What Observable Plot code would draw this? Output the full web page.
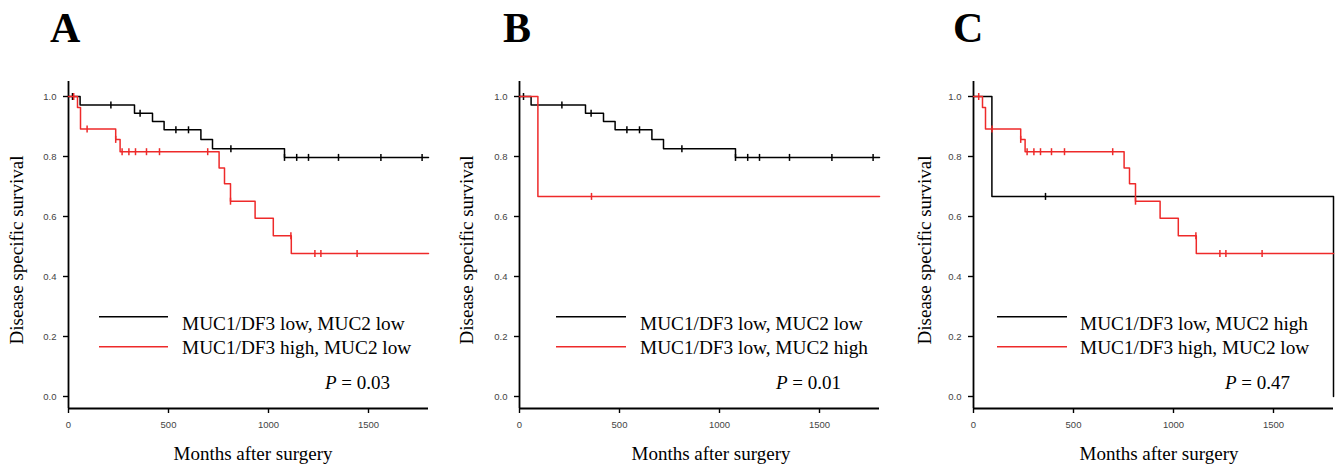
<!DOCTYPE html>
<html>
<head>
<meta charset="utf-8">
<script src="https://cdn.jsdelivr.net/npm/d3@7"></script>
<script src="https://cdn.jsdelivr.net/npm/@observablehq/plot@0.6"></script>
<style>
  html, body { margin: 0; padding: 0; background: #fff; }
  #root { position: relative; width: 1338px; height: 466px; overflow: hidden; background: #fff; }
  .panel { position: absolute; top: 0; }
  #overlay { position: absolute; left: 0; top: 0; pointer-events: none; }
</style>
</head>
<body>
<div id="root"></div>
<script>
// ---------- data ----------
const xTicks = [0, 500, 1000, 1500];
const yTicks = [0, 0.2, 0.4, 0.6, 0.8, 1.0];
const xMax = 1800;

// MUC1/DF3 low, MUC2 low
const lowLowEventTimes = [58, 330, 420, 478, 662, 720, 1080];
const lowLowEventSurv  = [0.972, 0.944, 0.917, 0.889, 0.857, 0.826, 0.797];
const lowLowCensorTimes = [20, 212, 358, 537, 600, 812, 1080, 1141, 1200, 1350, 1562, 1768];

// MUC1/DF3 high, MUC2 low
const highLowEventTimes = [45, 60, 236, 258, 753, 780, 810, 933, 1024, 1114];
const highLowEventSurv  = [0.963, 0.892, 0.857, 0.816, 0.762, 0.709, 0.651, 0.594, 0.536, 0.477];
const highLowCensorTimes = [26, 93, 236, 268, 302, 335, 390, 455, 696, 810, 1112, 1232, 1262, 1443];

// MUC1/DF3 low, MUC2 high
const lowHighEventTimes = [92];
const lowHighEventSurv  = [0.667];
const lowHighCensorTimes = [360];
// panel C: last remaining case of this group dies at end of follow-up
const lowHighFinalTimesC = [1800];
const lowHighFinalSurvC  = [0];

const panelLetters = ["A", "B", "C"];
const legendA = ["MUC1/DF3 low, MUC2 low", "MUC1/DF3 high, MUC2 low"];
const legendB = ["MUC1/DF3 low, MUC2 low", "MUC1/DF3 low, MUC2 high"];
const legendC = ["MUC1/DF3 low, MUC2 high", "MUC1/DF3 high, MUC2 low"];
const pValues = ["0.03", "0.01", "0.47"];
const yLabel = "Disease specific survival";
const xLabel = "Months after surgery";

// ---------- helpers ----------
const BLACK = "#000";
const RED = "#ee2a2a";

function stepPoints(times, surv, extraT = [], extraS = []) {
  const pts = [{t: 0, s: 1}];
  times.forEach((t, i) => pts.push({t, s: surv[i]}));
  extraT.forEach((t, i) => pts.push({t, s: extraS[i]}));
  pts.push({t: xMax, s: pts[pts.length - 1].s});
  return pts;
}
function censorPoints(times, evT, evS) {
  return times.map(t => {
    let s = 1;
    evT.forEach((et, i) => { if (et <= t) s = evS[i]; });
    return {t, s};
  });
}
const vtick = {
  draw(ctx, size) {
    const h = Math.sqrt(size / Math.PI);
    ctx.moveTo(0, -h); ctx.lineTo(0, h);
  }
};

const series = {
  lowLow: {
    line: stepPoints(lowLowEventTimes, lowLowEventSurv),
    cens: censorPoints(lowLowCensorTimes, lowLowEventTimes, lowLowEventSurv)
  },
  highLow: {
    line: stepPoints(highLowEventTimes, highLowEventSurv),
    cens: censorPoints(highLowCensorTimes, highLowEventTimes, highLowEventSurv)
  },
  lowHigh: {
    line: stepPoints(lowHighEventTimes, lowHighEventSurv),
    cens: censorPoints(lowHighCensorTimes, lowHighEventTimes, lowHighEventSurv)
  },
  lowHighC: {
    line: stepPoints(lowHighEventTimes, lowHighEventSurv, lowHighFinalTimesC, lowHighFinalSurvC),
    cens: censorPoints(lowHighCensorTimes, lowHighEventTimes, lowHighEventSurv)
  }
};

// layout per panel (page coordinates)
const panels = [
  {left: 0,   width: 451, ml: 68, black: "lowLow", red: "highLow", legend: legendA,
   letterX: 50, yLabX: 22.5, xLabX: 253, legX1: 99, legX2: 168, legTX: 182, pX: 325},
  {left: 451, width: 453, ml: 68, black: "lowLow", red: "lowHigh", legend: legendB,
   letterX: 503, yLabX: 473, xLabX: 711, legX1: 556, legX2: 626, legTX: 640, pX: 776},
  {left: 904, width: 434, ml: 69, black: "lowHighC", red: "highLow", legend: legendC,
   letterX: 953, yLabX: 931, xLabX: 1159, legX1: 997, legX2: 1067, legTX: 1080, pX: 1225}
];

const root = document.getElementById("root");

panels.forEach((p, k) => {
  const blk = series[p.black], red = series[p.red];
  const chart = Plot.plot({
    width: p.width,
    height: 466,
    marginLeft: p.ml,
    marginRight: p.width - p.ml - 360,
    marginTop: 81,
    marginBottom: 58,
    x: {domain: [0, xMax]},
    y: {domain: [-0.04, 1.05]},
    style: {background: "transparent", overflow: "visible",
            fontFamily: "'Liberation Sans', Arial, sans-serif", fontSize: "9.5px"},
    marks: [
      Plot.axisY({ticks: yTicks, tickFormat: d3.format(".1f"), tickSize: 5, tickPadding: 7,
                  stroke: "#000", fill: "#444", strokeWidth: 1.4, label: null}),
      Plot.axisX({ticks: xTicks, tickFormat: d => String(d), tickSize: 5, tickPadding: 8,
                  stroke: "#000", fill: "#444", strokeWidth: 1.4, label: null}),
      Plot.ruleX([0], {stroke: "#000", strokeWidth: 1.8}),
      Plot.ruleY([-0.04], {stroke: "#000", strokeWidth: 1.8}),
      Plot.line(blk.line, {x: "t", y: "s", curve: "step-after", stroke: BLACK, strokeWidth: 1.5}),
      Plot.dot(blk.cens, {x: "t", y: "s", symbol: vtick, r: 3.5, stroke: BLACK, strokeWidth: 1.5, fill: "none"}),
      Plot.line(red.line, {x: "t", y: "s", curve: "step-after", stroke: RED, strokeWidth: 1.5}),
      Plot.dot(red.cens, {x: "t", y: "s", symbol: vtick, r: 3.5, stroke: RED, strokeWidth: 1.5, fill: "none"})
    ]
  });
  const div = document.createElement("div");
  div.className = "panel";
  div.style.left = p.left + "px";
  div.style.width = p.width + "px";
  div.appendChild(chart);
  root.appendChild(div);
});

// text overlay
const svg = d3.select(root).append("svg")
  .attr("id", "overlay").attr("width", 1338).attr("height", 466)
  .style("font-family", "'Liberation Serif', 'Times New Roman', serif");

panels.forEach((p, k) => {
  svg.append("text").attr("x", p.letterX).attr("y", 41.5)
    .attr("font-size", 42).attr("font-weight", "bold").text(panelLetters[k]);
  svg.append("text").attr("transform", `translate(${p.yLabX},250) rotate(-90)`)
    .attr("text-anchor", "middle").attr("font-size", 19).text(yLabel);
  svg.append("text").attr("x", p.xLabX).attr("y", 459.5)
    .attr("text-anchor", "middle").attr("font-size", 19).text(xLabel);
  svg.append("line").attr("x1", p.legX1).attr("x2", p.legX2).attr("y1", 316.7).attr("y2", 316.7)
    .attr("stroke", BLACK).attr("stroke-width", 1.5);
  svg.append("line").attr("x1", p.legX1).attr("x2", p.legX2).attr("y1", 346.7).attr("y2", 346.7)
    .attr("stroke", RED).attr("stroke-width", 1.5);
  svg.append("text").attr("x", p.legTX).attr("y", 329.5).attr("font-size", 19.3).text(p.legend[0]);
  svg.append("text").attr("x", p.legTX).attr("y", 353.5).attr("font-size", 19.3).text(p.legend[1]);
  const t = svg.append("text").attr("x", p.pX).attr("y", 389).attr("font-size", 19);
  t.append("tspan").attr("font-style", "italic").text("P");
  t.append("tspan").text(" = " + pValues[k]);
});
</script>
</body>
</html>
